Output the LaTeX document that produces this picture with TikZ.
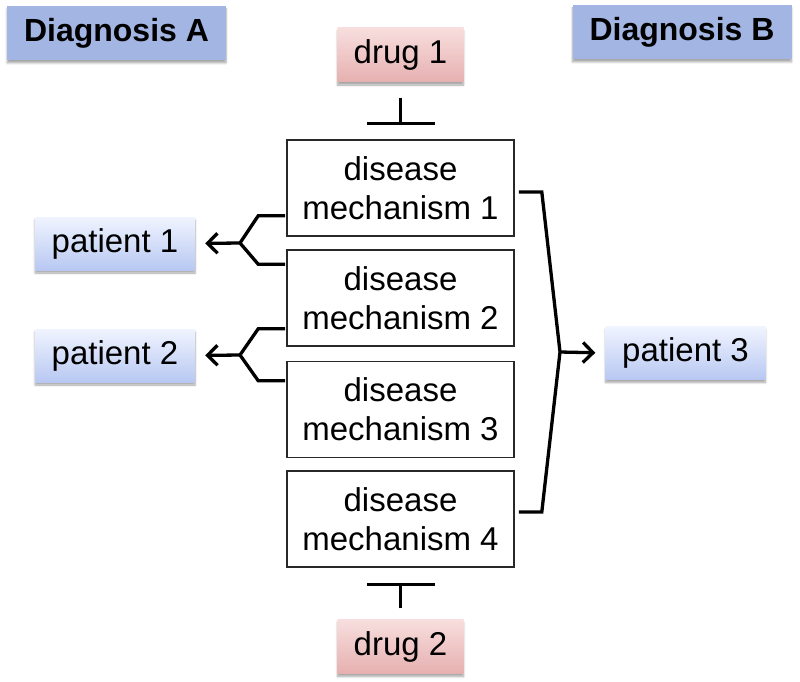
\documentclass[tikz,border=0pt]{standalone}
\usepackage{fontspec}
\setmainfont{Liberation Sans}
\usetikzlibrary{arrows.meta,calc,shadows.blur}
\definecolor{diagfill}{RGB}{162,181,227}
\definecolor{drugtop}{RGB}{248,222,222}
\definecolor{drugbot}{RGB}{230,176,176}
\definecolor{pattop}{RGB}{240,244,255}
\definecolor{patbot}{RGB}{184,200,242}
\definecolor{boxline}{RGB}{40,40,40}
\tikzset{
  every node/.style={font=\fontsize{33}{39}\selectfont, inner sep=0pt},
  shad/.style={blur shadow={shadow xshift=0pt, shadow yshift=-3pt, shadow blur steps=6, shadow opacity=35}},
  diagbox/.style={fill=diagfill, minimum width=219pt, minimum height=54pt, font=\fontsize{32}{38}\selectfont\bfseries, shad},
  drugbox/.style={top color=drugtop, bottom color=drugbot, minimum width=126pt, minimum height=54pt, shad},
  patbox/.style={top color=pattop, bottom color=patbot, minimum width=160pt, minimum height=53pt, shad},
  mechbox/.style={draw=boxline, line width=1.6pt, minimum width=227pt, minimum height=96pt, align=center},
  br/.style={line width=3.3pt, line join=miter},
  arr/.style={line width=3.3pt, -{Straight Barb[length=10pt,width=20pt,line width=3.3pt]}},
  inhib/.style={line width=2.7pt, -{Bar[width=68pt,line width=2.7pt]}}
}
\begin{document}
\begin{tikzpicture}[x=1pt,y=-1pt]
\useasboundingbox (0,0) rectangle (800,682);
\node[diagbox] (dA) at (116.5,33) {Diagnosis A};
\node[diagbox] (dB) at (682,32) {Diagnosis B};
\node[drugbox] (drug1) at (400.5,55) {drug 1};
\node[drugbox] (drug2) at (400.5,646.5) {drug 2};
\node[mechbox] (m1) at (400.5,188) {disease\\mechanism 1};
\node[mechbox] (m2) at (400.5,298) {disease\\mechanism 2};
\node[mechbox] (m3) at (400.5,409.5) {disease\\mechanism 3};
\node[mechbox] (m4) at (400.5,519) {disease\\mechanism 4};
\node[patbox] (p1) at (115,243.5) {patient 1};
\node[patbox] (p2) at (115,355.5) {patient 2};
\node[patbox] (p3) at (685.5,353) {patient 3};
% inhibition
\draw[inhib, shorten <=16pt, shorten >=14pt] (drug1.south) -- (m1.north);
\draw[inhib, shorten <=11pt, shorten >=15pt] (drug2.north) -- (m4.south);
% left forks
\coordinate (f1) at (240,243);
\coordinate (f2) at (240,355);
\draw[br] ($(m1.south west)+(-1,-21)$) -- ++(-27,0) -- (f1) -- ($(m2.north west)+(-28,15)$) -- ++(27,0);
\draw[arr, shorten >=10pt] (f1) -- (p1.east);
\draw[br] ($(m2.south west)+(-1,-18)$) -- ++(-27,0) -- (f2) -- ($(m3.north west)+(-28,20)$) -- ++(27,0);
\draw[arr, shorten >=10pt] (f2) -- (p2.east);
% right bracket
\coordinate (f3) at (560,352);
\draw[br] ($(m1.east)+(4,4)$) -- ++(23,0) -- (f3) -- ($(m4.east)+(27,-7)$) -- ++(-23,0);
\draw[arr, shorten >=10pt] (f3) -- (p3.west);
\end{tikzpicture}
\end{document}
